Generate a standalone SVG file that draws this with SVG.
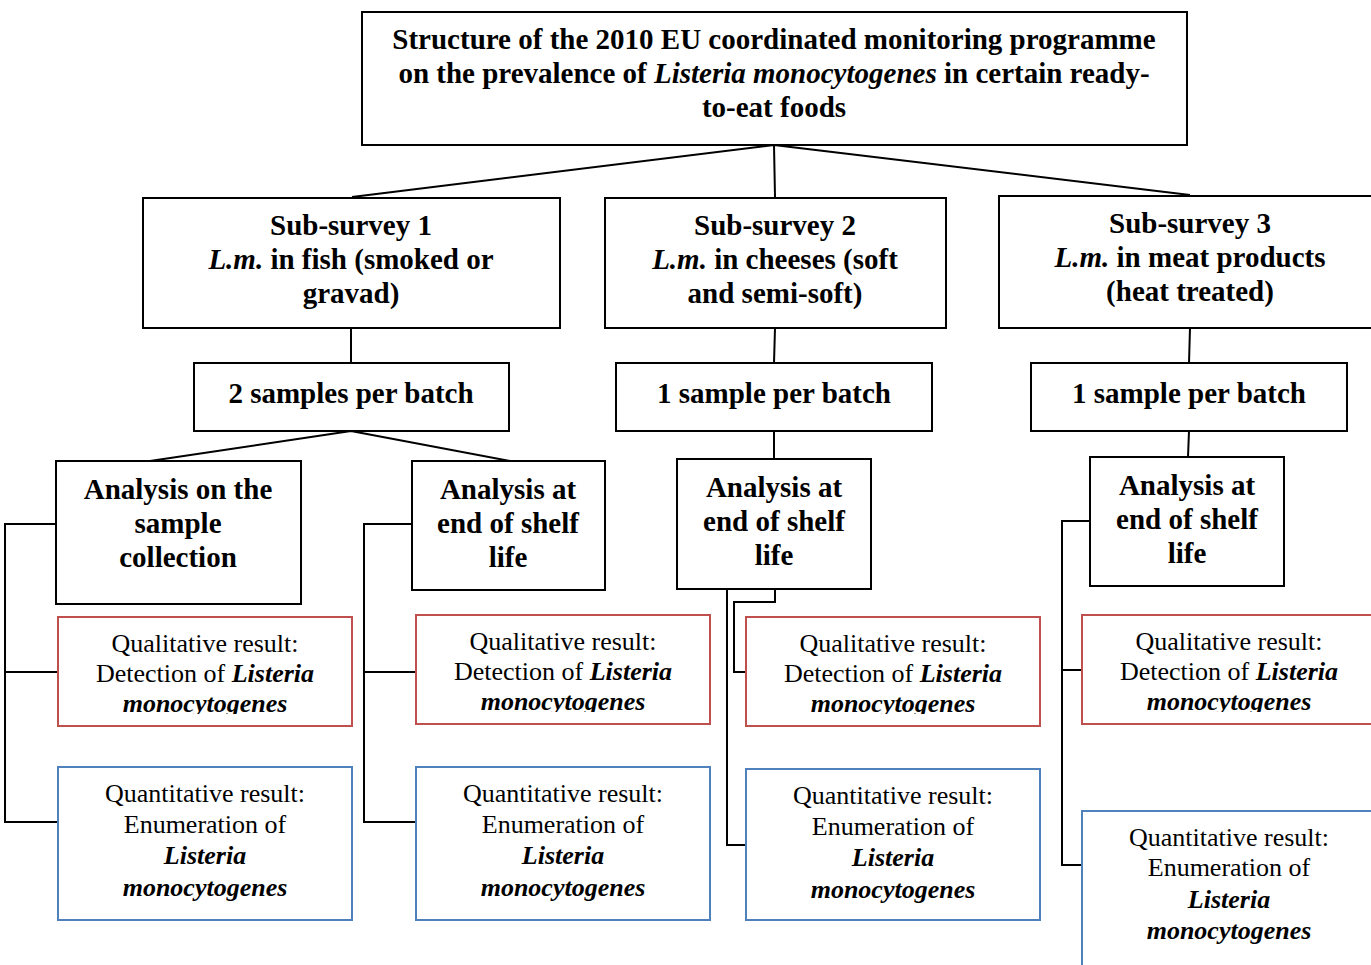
<svg xmlns="http://www.w3.org/2000/svg" width="1371" height="965" viewBox="0 0 1371 965" font-family="'Liberation Serif', Tinos, 'DejaVu Serif', serif">
  <style>
    .box { fill: #ffffff; stroke: #000000; stroke-width: 2; }
    .qual { fill: #ffffff; stroke: #c0504d; stroke-width: 2; }
    .quant { fill: #ffffff; stroke: #4f81bd; stroke-width: 2; }
    .link { fill: none; stroke: #000000; stroke-width: 2; }
    text { font-family: 'Liberation Serif', Tinos, 'DejaVu Serif', serif; }
    .hd { font-weight: bold; font-size: 29px; fill: #000000; text-anchor: middle; }
    .rs { font-size: 26px; fill: #000000; text-anchor: middle; }
    .bi { font-weight: bold; font-style: italic; }
    .it { font-style: italic; }
  </style>
  <defs>
    <clipPath id="clip-q1"><rect x="58" y="617" width="294" height="97"/></clipPath>
    <clipPath id="clip-q2"><rect x="416" y="615" width="294" height="97"/></clipPath>
    <clipPath id="clip-q3"><rect x="746" y="617" width="294" height="97"/></clipPath>
    <clipPath id="clip-q4"><rect x="1082" y="615" width="289" height="97"/></clipPath>
  </defs>
  <rect width="1371" height="965" fill="#ffffff"/>

  <!-- connectors -->
  <g id="connectors">
    <path class="link" d="M774,145 L352,197 M774,145 L775,197 M774,145 L1190,195"/>
    <path class="link" d="M351,328 L351,363 M775,328 L774,363 M1190,328 L1189,363"/>
    <path class="link" d="M351,431 L150,461 M351,431 L510,461"/>
    <path class="link" d="M774,431 L774,459 M1189,431 L1188,457"/>
    <!-- column 1 branches -->
    <path class="link" d="M56,524 L5,524 L5,822 L58,822 M5,672 L58,672"/>
    <!-- column 2 branches -->
    <path class="link" d="M412,524 L364,524 L364,822 L416,822 M364,672 L416,672"/>
    <!-- column 3 branches -->
    <path class="link" d="M775,589 L775,602 L734,602 L734,672 L746,672"/>
    <path class="link" d="M727,589 L727,845 L746,845"/>
    <!-- column 4 branches -->
    <path class="link" d="M1090,521 L1062,521 L1062,865 L1082,865 M1062,670 L1082,670"/>
  </g>

  <!-- title -->
  <g id="title">
    <rect class="box" x="362" y="12" width="825" height="133"/>
    <text class="hd" x="774" y="49">Structure of the 2010 EU coordinated monitoring programme</text>
    <text class="hd" x="774" y="83">on the prevalence of <tspan class="it">Listeria monocytogenes</tspan> in certain ready-</text>
    <text class="hd" x="774" y="117">to-eat foods</text>
  </g>

  <!-- sub-surveys -->
  <g id="sub1">
    <rect class="box" x="143" y="198" width="417" height="130"/>
    <text class="hd" x="351" y="235">Sub-survey 1</text>
    <text class="hd" x="351" y="269"><tspan class="it">L.m.</tspan> in fish (smoked or</text>
    <text class="hd" x="351" y="303">gravad)</text>
  </g>
  <g id="sub2">
    <rect class="box" x="605" y="198" width="341" height="130"/>
    <text class="hd" x="775" y="235">Sub-survey 2</text>
    <text class="hd" x="775" y="269"><tspan class="it">L.m.</tspan> in cheeses (soft</text>
    <text class="hd" x="775" y="303">and semi-soft)</text>
  </g>
  <g id="sub3">
    <rect class="box" x="999" y="196" width="380" height="132"/>
    <text class="hd" x="1190" y="233">Sub-survey 3</text>
    <text class="hd" x="1190" y="267"><tspan class="it">L.m.</tspan> in meat products</text>
    <text class="hd" x="1190" y="301">(heat treated)</text>
  </g>

  <!-- sampling -->
  <g id="batch1">
    <rect class="box" x="194" y="363" width="315" height="68"/>
    <text class="hd" x="351" y="403">2 samples per batch</text>
  </g>
  <g id="batch2">
    <rect class="box" x="616" y="363" width="316" height="68"/>
    <text class="hd" x="774" y="403">1 sample per batch</text>
  </g>
  <g id="batch3">
    <rect class="box" x="1031" y="363" width="316" height="68"/>
    <text class="hd" x="1189" y="403">1 sample per batch</text>
  </g>

  <!-- analysis points -->
  <g id="analysis1">
    <rect class="box" x="56" y="461" width="245" height="143"/>
    <text class="hd" x="178" y="499">Analysis on the</text>
    <text class="hd" x="178" y="533">sample</text>
    <text class="hd" x="178" y="567">collection</text>
  </g>
  <g id="analysis2">
    <rect class="box" x="412" y="461" width="193" height="129"/>
    <text class="hd" x="508" y="499">Analysis at</text>
    <text class="hd" x="508" y="533">end of shelf</text>
    <text class="hd" x="508" y="567">life</text>
  </g>
  <g id="analysis3">
    <rect class="box" x="677" y="459" width="194" height="130"/>
    <text class="hd" x="774" y="497">Analysis at</text>
    <text class="hd" x="774" y="531">end of shelf</text>
    <text class="hd" x="774" y="565">life</text>
  </g>
  <g id="analysis4">
    <rect class="box" x="1090" y="457" width="194" height="129"/>
    <text class="hd" x="1187" y="495">Analysis at</text>
    <text class="hd" x="1187" y="529">end of shelf</text>
    <text class="hd" x="1187" y="563">life</text>
  </g>

  <!-- qualitative results -->
  <g id="qual1">
    <rect class="qual" x="58" y="617" width="294" height="109"/>
    <g clip-path="url(#clip-q1)">
      <text class="rs" x="205" y="652">Qualitative result:</text>
      <text class="rs" x="205" y="682">Detection of <tspan class="bi">Listeria</tspan></text>
      <text class="rs bi" x="205" y="712">monocytogenes</text>
    </g>
  </g>
  <g id="qual2">
    <rect class="qual" x="416" y="615" width="294" height="109"/>
    <g clip-path="url(#clip-q2)">
      <text class="rs" x="563" y="650">Qualitative result:</text>
      <text class="rs" x="563" y="680">Detection of <tspan class="bi">Listeria</tspan></text>
      <text class="rs bi" x="563" y="710">monocytogenes</text>
    </g>
  </g>
  <g id="qual3">
    <rect class="qual" x="746" y="617" width="294" height="109"/>
    <g clip-path="url(#clip-q3)">
      <text class="rs" x="893" y="652">Qualitative result:</text>
      <text class="rs" x="893" y="682">Detection of <tspan class="bi">Listeria</tspan></text>
      <text class="rs bi" x="893" y="712">monocytogenes</text>
    </g>
  </g>
  <g id="qual4">
    <rect class="qual" x="1082" y="615" width="300" height="109"/>
    <g clip-path="url(#clip-q4)">
      <text class="rs" x="1229" y="650">Qualitative result:</text>
      <text class="rs" x="1229" y="680">Detection of <tspan class="bi">Listeria</tspan></text>
      <text class="rs bi" x="1229" y="710">monocytogenes</text>
    </g>
  </g>

  <!-- quantitative results -->
  <g id="quant1">
    <rect class="quant" x="58" y="767" width="294" height="153"/>
    <text class="rs" x="205" y="802">Quantitative result:</text>
    <text class="rs" x="205" y="833">Enumeration of</text>
    <text class="rs bi" x="205" y="864">Listeria</text>
    <text class="rs bi" x="205" y="896">monocytogenes</text>
  </g>
  <g id="quant2">
    <rect class="quant" x="416" y="767" width="294" height="153"/>
    <text class="rs" x="563" y="802">Quantitative result:</text>
    <text class="rs" x="563" y="833">Enumeration of</text>
    <text class="rs bi" x="563" y="864">Listeria</text>
    <text class="rs bi" x="563" y="896">monocytogenes</text>
  </g>
  <g id="quant3">
    <rect class="quant" x="746" y="769" width="294" height="151"/>
    <text class="rs" x="893" y="804">Quantitative result:</text>
    <text class="rs" x="893" y="835">Enumeration of</text>
    <text class="rs bi" x="893" y="866">Listeria</text>
    <text class="rs bi" x="893" y="898">monocytogenes</text>
  </g>
  <g id="quant4">
    <rect class="quant" x="1082" y="811" width="300" height="170"/>
    <text class="rs" x="1229" y="846">Quantitative result:</text>
    <text class="rs" x="1229" y="876">Enumeration of</text>
    <text class="rs bi" x="1229" y="908">Listeria</text>
    <text class="rs bi" x="1229" y="939">monocytogenes</text>
  </g>
</svg>
